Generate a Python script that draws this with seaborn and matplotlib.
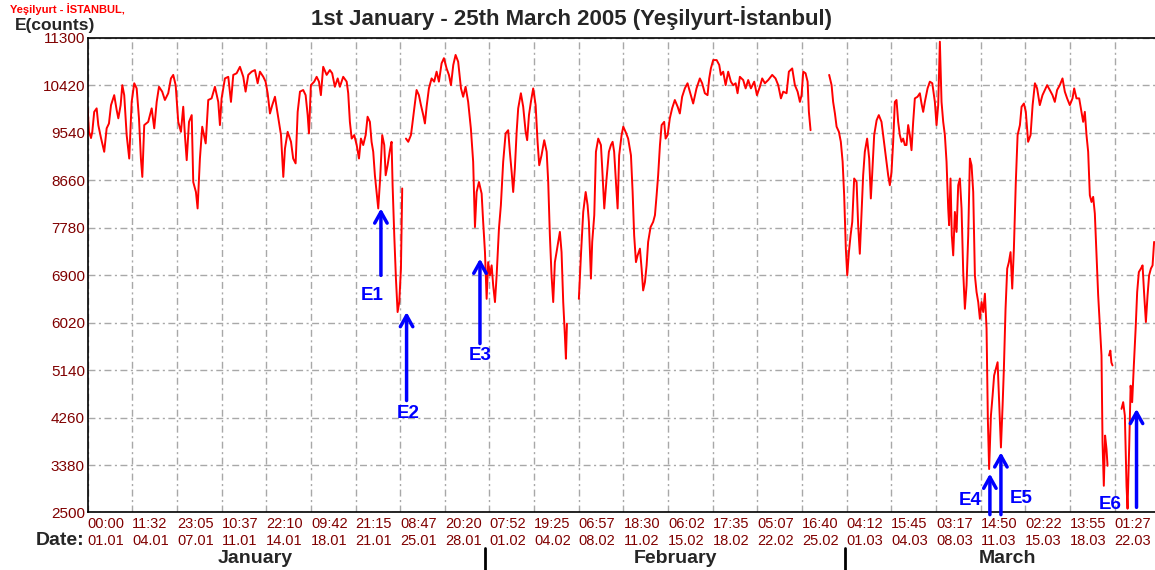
import numpy as np
import pandas as pd
import seaborn as sns
import matplotlib.pyplot as plt

# gözlem: 01.01.2005 00:00'dan itibaren gün, E(counts)
t1 = [0.00, 0.10, 0.26, 0.36, 0.51, 0.70, 0.83, 1.04, 1.29, 1.48,
      1.66, 1.82, 2.07, 2.26, 2.39, 2.57, 2.70, 2.85, 3.04, 3.24,
      3.43, 3.63, 3.82, 4.00, 4.15, 4.26, 4.41, 4.72, 4.99, 5.19,
      5.38, 5.56, 5.81, 6.02, 6.28, 6.49, 6.67, 6.86, 7.06, 7.27,
      7.45, 7.58, 7.72, 7.90, 8.11, 8.23, 8.44, 8.57, 8.75, 8.93,
      9.20, 9.40, 9.66, 9.92, 10.18, 10.31, 10.44, 10.70, 10.96, 11.17,
      11.35, 11.61, 11.87, 12.13, 12.31, 12.52, 12.78, 13.04, 13.25, 13.43,
      13.69, 13.87, 14.03, 14.21, 14.39, 14.60, 14.86, 15.07, 15.25, 15.38,
      15.59, 15.85, 16.02, 16.21, 16.37, 16.55, 16.80, 16.99, 17.15, 17.25,
      17.40, 17.66, 17.85, 18.03, 18.18, 18.36, 18.63, 18.88, 19.06, 19.27,
      19.49, 19.66, 19.92, 20.19, 20.31, 20.44, 20.58, 20.78, 20.97, 21.15,
      21.30, 21.48, 21.67, 21.82, 22.00, 22.13, 22.26, 22.39, 22.52, 22.65,
      22.80, 22.96, 23.12, 23.23, 23.38, 23.56, 23.69, 23.77, 23.90, 24.03,
      24.16, 24.29, 24.42, 24.52]
e1 = [9990, 9555, 9440, 9555, 9925, 9990, 9680, 9440, 9185, 9620,
      9710, 10050, 10235, 9960, 9805, 10050, 10420, 10235, 9495, 9060,
      10110, 10455, 10360, 9805, 9060, 8720, 9680, 9740, 9990, 9620,
      10110, 10390, 10300, 10145, 10270, 10545, 10610, 10420, 9740, 9555,
      10020, 9495, 9030, 9740, 9865, 8625, 8440, 8135, 9060, 9650,
      9340, 10145, 10175, 10390, 10110, 9680, 10175, 10545, 10575, 10110,
      10610, 10640, 10760, 10575, 10300, 10610, 10670, 10700, 10455, 10670,
      10575, 10485, 10270, 9895, 10050, 10205, 9805, 9495, 8720, 9245,
      9555, 9370, 9060, 8970, 9925, 10300, 10330, 10235, 9865, 9525,
      10420, 10485, 10575, 10485, 10235, 10760, 10610, 10700, 10640, 10390,
      10545, 10390, 10575, 10485, 10270, 9740, 9430, 9495, 9310, 9060,
      9430, 9310, 9495, 9835, 9740, 9370, 9185, 8750, 8440, 8135,
      8690, 9495, 9310, 8750, 8935, 9215, 9370, 8565, 7635, 6835,
      6215, 6400, 7020, 8505]

t2 = [24.81, 24.99, 25.20, 25.30, 25.46, 25.64, 25.82, 25.98, 26.16, 26.29,
      26.42, 26.60, 26.81, 27.01, 27.20, 27.38, 27.59, 27.77, 27.98, 28.16,
      28.32, 28.50, 28.68, 28.88, 29.10, 29.27, 29.46, 29.66, 29.87, 30.05,
      30.19, 30.32, 30.50, 30.71, 30.83, 30.97, 31.10, 31.22, 31.36, 31.49,
      31.61, 31.75, 31.88, 32.06, 32.21, 32.39, 32.58, 32.78, 32.91, 33.05,
      33.17, 33.30, 33.44, 33.56, 33.77, 33.95, 34.14, 34.26, 34.40, 34.55,
      34.73, 34.92, 35.07, 35.20, 35.38, 35.59, 35.78, 35.90, 36.03, 36.16,
      36.29, 36.42, 36.55, 36.68, 36.81, 36.94, 37.07, 37.20, 37.28, 37.36]
e2 = [9430, 9370, 9495, 9680, 9990, 10330, 10235, 10050, 9865, 9710,
      10020, 10360, 10545, 10485, 10670, 10485, 10825, 10920, 10730, 10610,
      10420, 10795, 10980, 10855, 10360, 10205, 10390, 10110, 9620, 9000,
      7790, 8440, 8625, 8410, 7885, 7325, 6460, 7140, 6895, 7080,
      6710, 6400, 6895, 7760, 8195, 9000, 9525, 9585, 9185, 8810,
      8440, 8875, 9555, 9990, 10270, 10020, 9555, 9400, 9865, 10110,
      10360, 10050, 9370, 8935, 9120, 9400, 9185, 8625, 7635, 6895,
      6400, 7140, 7325, 7515, 7700, 7325, 6400, 5780, 5350, 6000]

t3 = [38.29, 38.45, 38.63, 38.82, 38.97, 39.07, 39.23, 39.33, 39.49, 39.62,
      39.80, 40.01, 40.11, 40.27, 40.45, 40.63, 40.79, 40.92, 41.04, 41.18,
      41.31, 41.43, 41.62, 41.75, 41.93, 42.13, 42.35, 42.48, 42.60, 42.74,
      42.87, 43.05, 43.18, 43.30, 43.44, 43.57, 43.69, 43.88, 44.08, 44.22,
      44.35, 44.47, 44.61, 44.74, 44.94, 45.05, 45.21, 45.38, 45.56, 45.77,
      45.99, 46.16, 46.34, 46.55, 46.76, 46.94, 47.20, 47.46, 47.72, 47.90,
      48.11, 48.32, 48.45, 48.58, 48.76, 49.03, 49.23, 49.36, 49.54, 49.73,
      49.93, 50.14, 50.32, 50.51, 50.66, 50.84, 51.10, 51.29, 51.49, 51.70,
      51.96, 52.17, 52.40, 52.58, 52.79, 53.05, 53.36, 53.62, 53.83, 54.04,
      54.22, 54.48, 54.66, 54.92, 55.13, 55.34, 55.52, 55.65, 55.78, 55.96,
      56.12, 56.22, 56.35]
e3 = [6460, 7265, 8070, 8440, 8195, 7885, 6835, 7515, 8010, 9185,
      9430, 9310, 8875, 8135, 8690, 9185, 9310, 9370, 9185, 8625,
      8135, 9120, 9495, 9650, 9555, 9430, 9120, 8440, 7635, 7140,
      7265, 7390, 7020, 6615, 6770, 7080, 7515, 7790, 7885, 8010,
      8380, 8750, 9310, 9680, 9740, 9430, 9495, 9805, 9990, 10145,
      10020, 9895, 10205, 10360, 10455, 10300, 10080, 10360, 10545, 10455,
      10270, 10235, 10545, 10730, 10885, 10885, 10795, 10610, 10670, 10420,
      10670, 10485, 10420, 10455, 10270, 10575, 10515, 10360, 10515, 10360,
      10485, 10235, 10390, 10545, 10455, 10515, 10610, 10545, 10420, 10175,
      10300, 10270, 10670, 10730, 10420, 10300, 10110, 10235, 10670, 10640,
      10485, 9925, 9585]

t4 = [57.80, 57.99, 58.11, 58.25, 58.38, 58.56, 58.71, 58.85, 58.97, 59.10,
      59.21, 59.34, 59.47, 59.60, 59.75, 59.94, 60.06, 60.19, 60.33, 60.45,
      60.58, 60.76, 60.92, 61.05, 61.15, 61.31, 61.50, 61.67, 61.88, 62.01,
      62.14, 62.27, 62.40, 62.53, 62.66, 62.79, 62.92, 63.05, 63.18, 63.31,
      63.44, 63.57, 63.70, 63.83, 63.96, 64.09, 64.22, 64.35, 64.48, 64.69,
      64.87, 65.00, 65.13, 65.26, 65.47, 65.65, 65.84, 66.04, 66.17, 66.30,
      66.43, 66.56, 66.69, 66.82, 66.95, 67.08, 67.15, 67.26, 67.36, 67.47,
      67.60, 67.73, 67.86, 67.99, 68.12, 68.25, 68.38, 68.51, 68.64, 68.77,
      68.90, 69.03, 69.16, 69.29, 69.42, 69.55, 69.68, 69.81, 69.94, 70.07,
      70.17, 70.27, 70.41, 70.54, 70.66, 70.80, 70.93, 71.05, 71.19, 71.32,
      71.42, 71.55, 71.68, 71.81, 71.94, 72.07, 72.20, 72.35, 72.49, 72.67,
      72.80, 72.98, 73.13, 73.31, 73.50, 73.66, 73.84, 74.01, 74.22, 74.43,
      74.61, 74.79, 75.00, 75.21, 75.39, 75.57, 75.78, 75.99, 76.17, 76.35,
      76.56, 76.77, 76.90, 77.08, 77.29, 77.47, 77.60, 77.73, 77.86, 77.99,
      78.12, 78.25, 78.38, 78.51, 78.64, 78.77, 78.90, 79.03, 79.11, 79.21,
      79.31, 79.42, 79.50]
e4 = [10610, 10420, 10110, 9895, 9650, 9555, 9370, 9000, 8380, 7390,
      6895, 7325, 7635, 7885, 8690, 8625, 7825, 7295, 8070, 8750,
      9185, 9430, 9060, 8320, 8750, 9495, 9770, 9865, 9740, 9495,
      9245, 9000, 8750, 8565, 8810, 9370, 10110, 10145, 9740, 9495,
      9370, 9430, 9310, 9310, 9680, 9495, 9215, 9740, 10175, 10205,
      10270, 10080, 9925, 10110, 10360, 10485, 10455, 10110, 9680, 10050,
      11225, 10110, 9740, 9495, 9000, 8135, 7825, 8690, 7635, 7265,
      8070, 7700, 8565, 8690, 8135, 6955, 6275, 6710, 7635, 9060,
      8935, 8440, 6895, 6585, 6400, 6090, 6400, 6215, 6555, 5905,
      4235, 3305, 4295, 4665, 5040, 5165, 5285, 4545, 3705, 4480,
      5165, 6275, 7020, 7140, 7325, 6650, 7390, 8625, 9495, 9680,
      10020, 10080, 9925, 9370, 9495, 10050, 10455, 10360, 10050, 10235,
      10330, 10420, 10330, 10235, 10110, 10330, 10420, 10545, 10300, 10175,
      10050, 10175, 10360, 10175, 10175, 9925, 9740, 9925, 9495, 9185,
      8380, 8255, 8350, 8040, 7265, 6525, 5965, 5410, 3800, 2995,
      3925, 3675, 3365]

t5 = [79.62, 79.72, 79.80, 79.89]
e5 = [5410, 5500, 5280, 5225]

t6 = [80.59, 80.72, 80.85, 80.98, 81.06, 81.19, 81.30, 81.42, 81.55, 81.69,
      81.81, 81.94, 82.10, 82.23, 82.36, 82.49, 82.62, 82.74, 82.88, 83.01,
      83.13]
e6 = [4420, 4545, 4295, 2995, 2570, 3740, 4850, 4545, 5225, 5905,
      6585, 6955, 7020, 7080, 6525, 6030, 6525, 6895, 7020, 7080,
      7515]

# eksen etiketleri (her aralık 83 saat 31.5 dk)
time_labels = ['00:00', '11:32', '23:05', '10:37', '22:10', '09:42', '21:15', '08:47',
               '20:20', '07:52', '19:25', '06:57', '18:30', '06:02', '17:35', '05:07',
               '16:40', '04:12', '15:45', '03:17', '14:50', '02:22', '13:55', '01:27']
date_labels = ['01.01', '04.01', '07.01', '11.01', '14.01', '18.01', '21.01', '25.01',
               '28.01', '01.02', '04.02', '08.02', '11.02', '15.02', '18.02', '22.02',
               '25.02', '01.03', '04.03', '08.03', '11.03', '15.03', '18.03', '22.03']
month_names = ['January', 'February', 'March']
month_starts = [31, 59]
y_ticks = list(range(2500, 11301, 880))
events = ['E1', 'E2', 'E3', 'E4', 'E5', 'E6']

segs = [(t1, e1), (t2, e2), (t3, e3), (t4, e4), (t5, e5), (t6, e6)]
df = pd.concat([pd.DataFrame({'day': t, 'counts': e, 'seg': i})
                for i, (t, e) in enumerate(segs)], ignore_index=True)

sns.set_style('white')
plt.rcParams['font.family'] = ['Liberation Sans', 'DejaVu Sans']

fig = plt.figure(figsize=(11.55, 5.7), dpi=100)
ax = fig.add_axes([0.0759, 0.1009, 0.9241, 0.8330])

sns.lineplot(data=df, x='day', y='counts', units='seg', estimator=None,
             sort=False, color='#ff0000', lw=1.4, ax=ax)

ax.set_xlim(0, 83.2)
ax.set_ylim(2500, 11300)
ax.set_xlabel('')
ax.set_ylabel('')

step = 83.525 / 24
xt = [k * step for k in range(len(time_labels))]
ax.set_xticks(xt)
ax.set_xticklabels([f'{a}\n{b}' for a, b in zip(time_labels, date_labels)],
                   ha='left', linespacing=1.3)
ax.set_yticks(y_ticks)
ax.set_yticklabels([str(v) for v in y_ticks])
ax.tick_params(axis='both', length=0, labelcolor='#800000')
ax.tick_params(axis='x', labelsize=10.5, pad=3)
ax.tick_params(axis='y', labelsize=11, pad=2)
ax.grid(True, color='#a8a8a8', lw=1, linestyle=(0, (5, 2.5, 1.5, 2.5)))

for s in ['left', 'bottom', 'top']:
    ax.spines[s].set_color('black')
    ax.spines[s].set_linewidth(1.2)
ax.spines['right'].set_visible(False)

# olay okları
arrow_x = [22.86, 24.86, 30.58, 70.33, 71.19, 81.76]
arrow_head = [8135, 6215, 7205, 3220, 3615, 4420]
arrow_tail = [6895, 4575, 5630, 2460, 2460, 2595]
label_pos = [(22.18, 6520), (24.96, 4340), (30.58, 5410),
             (68.77, 2720), (72.80, 2750), (79.68, 2655)]
for name, x, yh, yt_, (lx, ly) in zip(events, arrow_x, arrow_head, arrow_tail, label_pos):
    ax.annotate('', xy=(x, yh), xytext=(x, yt_),
                arrowprops=dict(arrowstyle='->,head_length=0.5,head_width=0.28',
                                color='#0000ff', lw=2.5,
                                mutation_scale=16, shrinkA=0, shrinkB=0),
                annotation_clip=False)
    ax.text(lx, ly, name, color='#0000ff', fontsize=13.5, fontweight='bold',
            ha='center', va='center')

# ay ayraçları ve isimleri
trans = ax.get_xaxis_transform()
for d in month_starts:
    ax.plot([d, d], [-0.075, -0.13], transform=trans, color='black', lw=2, clip_on=False)
for name, mx in zip(month_names, [13.04, 45.85, 71.73]):
    ax.text(mx, -0.096, name, transform=trans, ha='center', va='center',
            fontsize=14, fontweight='bold')

fig.text(0.031, 0.0526, 'Date:', fontsize=14, fontweight='bold', va='center')
fig.text(0.495, 0.968, '1st January - 25th March 2005 (Yeşilyurt-İstanbul)',
         ha='center', va='center', fontsize=16, fontweight='bold')
fig.text(0.013, 0.956, 'E(counts)', ha='left', va='center', fontsize=12.5, fontweight='bold')
fig.text(0.0087, 0.984, 'Yeşilyurt - İSTANBUL,', ha='left', va='center',
         fontsize=8, color='#ff0000', fontweight='bold')

fig.savefig('out.png', dpi=100)
plt.close()
